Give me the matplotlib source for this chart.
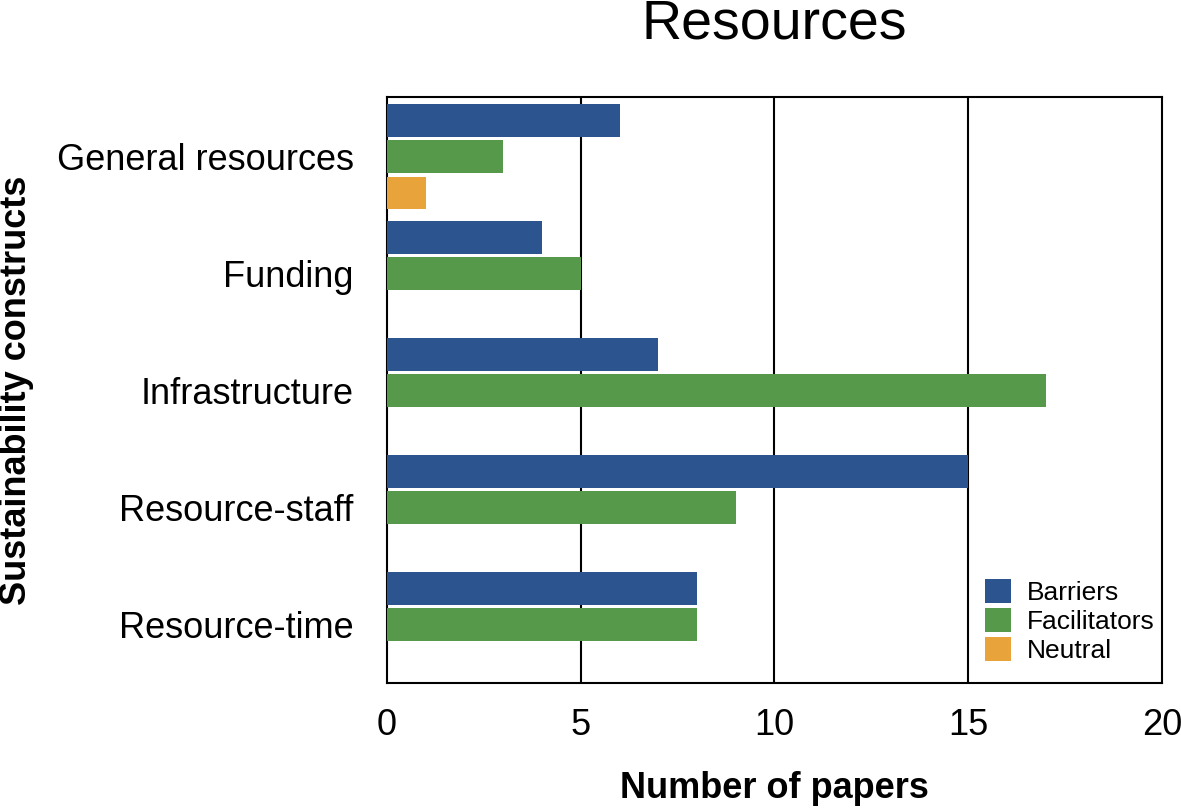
import numpy as np
import matplotlib
matplotlib.use("Agg")
import matplotlib.pyplot as plt

plt.rcParams['font.family'] = ['Liberation Sans', 'DejaVu Sans']

categories = ['General resources', 'Funding', 'Infrastructure', 'Resource-staff', 'Resource-time']
barriers = [6, 4, 7, 15, 8]
facilitators = [3, 5, 17, 9, 8]
neutral = [1, 0, 0, 0, 0]

fig = plt.figure(figsize=(11.81, 8.10), dpi=100)
ax = fig.add_axes([0.3277, 0.1568, 0.6562, 0.7234])

y = np.arange(len(categories))
h = 0.28
off = 0.31
ax.barh(y - off, barriers, h, color='#2c5590', label='Barriers', zorder=3)
ax.barh(y, facilitators, h, color='#56994a', label='Facilitators', zorder=3)
ax.barh(y + off, neutral, h, color='#e8a33b', label='Neutral', zorder=3)

ax.set_xlim(0, 20)
ax.set_ylim(4.5, -0.51)
ax.set_xticks([0, 5, 10, 15, 20])
ax.set_yticks(y)
ax.set_yticklabels(categories)
ax.tick_params(axis='both', length=0, labelsize=26)
ax.tick_params(axis='y', pad=24)
ax.tick_params(axis='x', pad=18)
for xv in [5, 10, 15]:
    ax.axvline(xv, color='black', lw=1.5, zorder=1)
for s in ax.spines.values():
    s.set_linewidth(1.5)
    s.set_color('black')

ax.set_xlabel('Number of papers', fontsize=26, fontweight='bold', labelpad=20)
fig.text(17 / 1181, 0.5185, 'Sustainability constructs', fontsize=26, fontweight='bold',
         rotation=90, ha='center', va='center')
fig.text(0.656, 0.952, 'Resources', fontsize=40, ha='center', va='baseline')

leg = ax.legend(loc='lower right', bbox_to_anchor=(1.008, 0.012), fontsize=19, frameon=False,
                borderaxespad=0, handlelength=1.0, handleheight=1.0,
                labelspacing=0.12, handletextpad=0.6, borderpad=0.5)

fig.savefig('out.png', dpi=100)
